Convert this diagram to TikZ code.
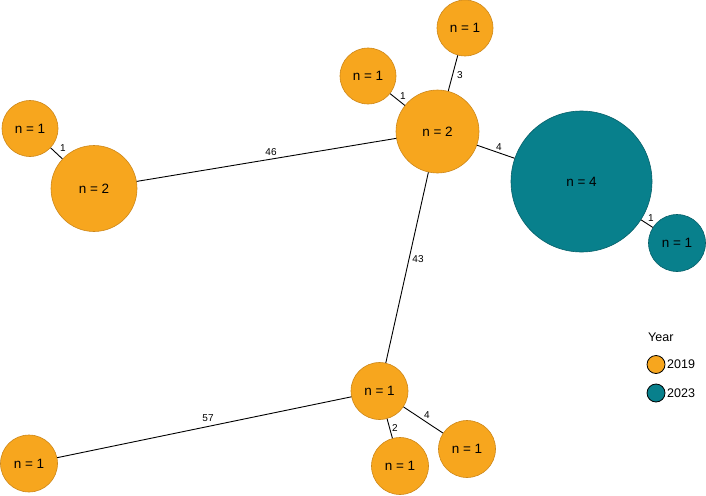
\documentclass[tikz,border=0pt]{standalone}
\usepackage{fontspec}
\setmainfont{Liberation Sans}
\definecolor{orfill}{RGB}{247,166,30}
\definecolor{ordraw}{RGB}{205,135,25}
\definecolor{tlfill}{RGB}{8,128,140}
\definecolor{tldraw}{RGB}{5,95,105}
\tikzset{
  orn/.style={circle, fill=orfill, draw=ordraw, line width=0.6pt, inner sep=0pt, font=\fontsize{13.5}{14}\selectfont},
  tln/.style={circle, fill=tlfill, draw=tldraw, line width=0.6pt, inner sep=0pt, font=\fontsize{13.5}{14}\selectfont},
  edge/.style={line width=0.9pt, black},
  lbl/.style={inner sep=0pt, font=\fontsize{10}{11}\selectfont},
  legc/.style={circle, draw=black, line width=0.8pt, inner sep=0pt, minimum size=18pt},
  legt/.style={inner sep=0pt, anchor=west, font=\fontsize{12.5}{13}\selectfont}
}
\begin{document}
\begin{tikzpicture}[x=1pt,y=-1pt]
\useasboundingbox (0,0) rectangle (706,495);
% nodes
\node[orn, minimum size=56pt] (A) at (30,128.5) {n = 1};
\node[orn, minimum size=86pt] (B) at (94,188.5) {n = 2};
\node[orn, minimum size=56pt] (C) at (368,76) {n = 1};
\node[orn, minimum size=56pt] (D) at (465,28) {n = 1};
\node[orn, minimum size=83pt] (E) at (437.5,131.5) {n = 2};
\node[tln, minimum size=141pt] (F) at (581.5,181.5) {n = 4};
\node[tln, minimum size=57pt] (G) at (677,243) {n = 1};
\node[orn, minimum size=57pt] (H) at (379.5,391) {n = 1};
\node[orn, minimum size=57pt] (I) at (29,463.5) {n = 1};
\node[orn, minimum size=57pt] (J) at (400,466) {n = 1};
\node[orn, minimum size=57pt] (K) at (467,449) {n = 1};
% edges
\draw[edge] (A) -- (B);
\draw[edge] (B) -- (E);
\draw[edge] (C) -- (E);
\draw[edge] (D) -- (E);
\draw[edge] (E) -- (F);
\draw[edge] (F) -- (G);
\draw[edge] (E) -- (H);
\draw[edge] (H) -- (I);
\draw[edge] (H) -- (J);
\draw[edge] (H) -- (K);
% edge labels
\node[lbl] (lAB) at (63,148) {1};
\node[lbl] (lBE) at (271,152) {46};
\node[lbl] (lCE) at (403,96) {1};
\node[lbl] (lDE) at (460,75) {3};
\node[lbl] (lEF) at (499,147) {4};
\node[lbl] (lFG) at (651,218) {1};
\node[lbl] (lEH) at (418,259) {43};
\node[lbl] (lHI) at (208,418) {57};
\node[lbl] (lHJ) at (395,428) {2};
\node[lbl] (lHK) at (427,415) {4};
% legend
\node[legt] (ltitle) at (648,337) {Year};
\node[legc, fill=orfill] (lc1) at (656,364.5) {};
\node[legc, fill=tlfill] (lc2) at (656,393) {};
\node[legt] (lt1) at (667,364.5) {2019};
\node[legt] (lt2) at (667,393) {2023};
\end{tikzpicture}
\end{document}
